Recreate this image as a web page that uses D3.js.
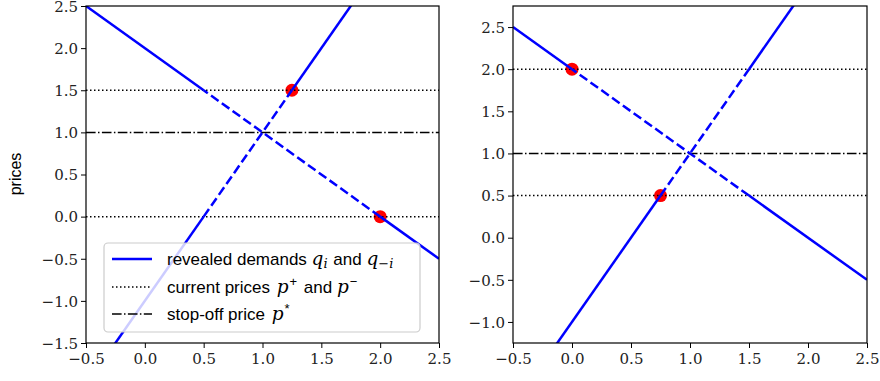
<!DOCTYPE html>
<html><head><meta charset="utf-8">
<script src="https://cdn.jsdelivr.net/npm/d3@7"></script>
<style>
body{margin:0;background:#fff;}
svg{display:block;}
</style>
</head><body>
<svg id="c" width="880" height="381"></svg>
<script>
const xTicks = [-0.5, 0.0, 0.5, 1.0, 1.5, 2.0, 2.5];
const leftYTicks = [-1.5, -1.0, -0.5, 0.0, 0.5, 1.0, 1.5, 2.0, 2.5];
const rightYTicks = [-1.0, -0.5, 0.0, 0.5, 1.0, 1.5, 2.0, 2.5];
const leftYDomain = [-1.5, 2.5];
const rightYDomain = [-1.25, 2.75];
const xDomain = [-0.5, 2.5];
// current prices p+ and p-, stop-off price p*
const leftPrices = {pPlus: 1.5, pMinus: 0.0, pStar: 1.0};
const rightPrices = {pPlus: 2.0, pMinus: 0.5, pStar: 1.0};
// revealed demand lines (two points each)
const demandDown = [[-0.5, 2.5], [2.5, -0.5]];
const demandUp = [[-0.5, -2.0], [2.5, 4.0]];
// revealed points
const leftPoints = [[1.25, 1.5], [2.0, 0.0]];
const rightPoints = [[0.0, 2.0], [0.75, 0.5]];

const svg = d3.select("#c");
const fmt = v => (v < 0 ? "\u2212" : "") + Math.abs(v).toFixed(1);
const sans = "Liberation Sans";
const mathFont = "DejaVu Serif";

function drawPanel(x0, x1, y0, y1, yDomain, yTicks, prices, points, withLegend, id, tickFont) {
  const x = d3.scaleLinear().domain(xDomain).range([x0, x1]);
  const y = d3.scaleLinear().domain(yDomain).range([y1, y0]);
  const g = svg.append("g");
  svg.append("clipPath").attr("id", id).append("rect")
    .attr("x", x0).attr("y", y0).attr("width", x1 - x0).attr("height", y1 - y0);
  const plot = g.append("g").attr("clip-path", `url(#${id})`);

  plot.selectAll("circle").data(points).join("circle")
    .attr("cx", d => x(d[0])).attr("cy", d => y(d[1])).attr("r", 6.5).attr("fill", "#ff0000");

  [prices.pPlus, prices.pMinus].forEach(p => {
    plot.append("line").attr("x1", x0).attr("x2", x1).attr("y1", y(p)).attr("y2", y(p))
      .attr("stroke", "#000").attr("stroke-width", 1.5).attr("stroke-dasharray", "1.5,2.5");
  });
  plot.append("line").attr("x1", x0).attr("x2", x1).attr("y1", y(prices.pStar)).attr("y2", y(prices.pStar))
    .attr("stroke", "#000").attr("stroke-width", 1.5).attr("stroke-dasharray", "9.6,2.4,1.5,2.4");

  const lo = Math.min(prices.pPlus, prices.pMinus), hi = Math.max(prices.pPlus, prices.pMinus);
  [demandDown, demandUp].forEach(L => {
    const [[ax, ay], [bx, by]] = L;
    const xAt = v => ax + (v - ay) * (bx - ax) / (by - ay);
    const xl = xAt(lo), xh = xAt(hi);
    const segs = [
      {a: [ax, ay], b: [ay < by ? xl : xh, ay < by ? lo : hi], dash: false},
      {a: [xl, lo], b: [xh, hi], dash: true},
      {a: [ay < by ? xh : xl, ay < by ? hi : lo], b: [bx, by], dash: false}
    ];
    segs.forEach(s => {
      plot.append("line").attr("x1", x(s.a[0])).attr("y1", y(s.a[1]))
        .attr("x2", x(s.b[0])).attr("y2", y(s.b[1]))
        .attr("stroke", "#0000ff").attr("stroke-width", 2.5)
        .attr("stroke-dasharray", s.dash ? "9.25,4" : null);
    });
  });

  const xa = g.append("g").attr("transform", `translate(0,${y1})`)
    .call(d3.axisBottom(x).tickValues(xTicks).tickFormat(fmt).tickSize(5).tickSizeOuter(0));
  const ya = g.append("g").attr("transform", `translate(${x0},0)`)
    .call(d3.axisLeft(y).tickValues(yTicks).tickFormat(fmt).tickSize(5).tickSizeOuter(0));
  [xa, ya].forEach(a => {
    a.attr("font-family", tickFont).attr("font-size", 15);
    a.select(".domain").remove();
    a.selectAll(".tick line").attr("stroke", "#000").attr("stroke-width", 1);
    a.selectAll(".tick text").attr("fill", "#222");
  });
  xa.selectAll(".tick text").attr("dy", "0.95em").attr("y", 7);
  ya.selectAll(".tick text").attr("x", -8).attr("dy", "0.35em");
  g.append("rect").attr("x", x0).attr("y", y0).attr("width", x1 - x0).attr("height", y1 - y0)
    .attr("fill", "none").attr("stroke", "#000").attr("stroke-width", 1.2);

  if (withLegend) {
    const lg = g.append("g");
    lg.append("rect").attr("x", 104).attr("y", 243).attr("width", 316).attr("height", 89)
      .attr("rx", 4).attr("fill", "#fff").attr("fill-opacity", 0.8)
      .attr("stroke", "#cccccc").attr("stroke-width", 1.2);
    const rows = [
      {y: 259, stroke: "#0000ff", w: 2.5, dash: null},
      {y: 287, stroke: "#000", w: 1.5, dash: "1.5,2.5"},
      {y: 314, stroke: "#000", w: 1.5, dash: "9.6,2.4,1.5,2.4"}
    ];
    rows.forEach(r => {
      lg.append("line").attr("x1", 112).attr("x2", 152).attr("y1", r.y).attr("y2", r.y)
        .attr("stroke", r.stroke).attr("stroke-width", r.w).attr("stroke-dasharray", r.dash);
    });
    function txt(yy, parts) {
      const t = lg.append("text").attr("x", 167).attr("y", yy + 6)
        .attr("font-size", 17).attr("font-family", sans).attr("fill", "#000");
      parts.forEach(p => {
        const ts = t.append("tspan").text(p.t);
        if (p.m) ts.attr("font-family", mathFont).attr("font-style", "italic").attr("font-size", 18.5);
        if (p.small) ts.attr("font-size", 13);
        if (p.dy) ts.attr("dy", p.dy);
        if (p.dx) ts.attr("dx", p.dx);
      });
    }
    txt(259, [{t: "revealed demands "}, {t: "q", m: true}, {t: "i", m: true, small: true, dy: 3},
      {t: " and ", dy: -3, dx: 1}, {t: "q", m: true}, {t: "\u2212i", m: true, small: true, dy: 3}]);
    txt(287, [{t: "current prices "}, {t: "p", m: true, dx: 2}, {t: "+", small: true, dy: -7, dx: 1},
      {t: " and ", dy: 7, dx: 2}, {t: "p", m: true}, {t: "\u2212", small: true, dy: -7, dx: 1}]);
    txt(314, [{t: "stop-off price "}, {t: "p", m: true, dx: 2}, {t: "*", small: true, dy: -7, dx: 1}]);
  }
}

drawPanel(86, 439, 6, 343, leftYDomain, leftYTicks, leftPrices, leftPoints, true, "clipL", "DejaVu Serif, serif");
drawPanel(513, 867, 6, 343, rightYDomain, rightYTicks, rightPrices, rightPoints, false, "clipR", "DejaVu Serif, serif");

svg.append("text").attr("transform", "translate(21,174) rotate(-90)")
  .attr("text-anchor", "middle").attr("font-family", sans)
  .attr("font-size", 16).attr("fill", "#000").text("prices");
</script>
</body></html>
